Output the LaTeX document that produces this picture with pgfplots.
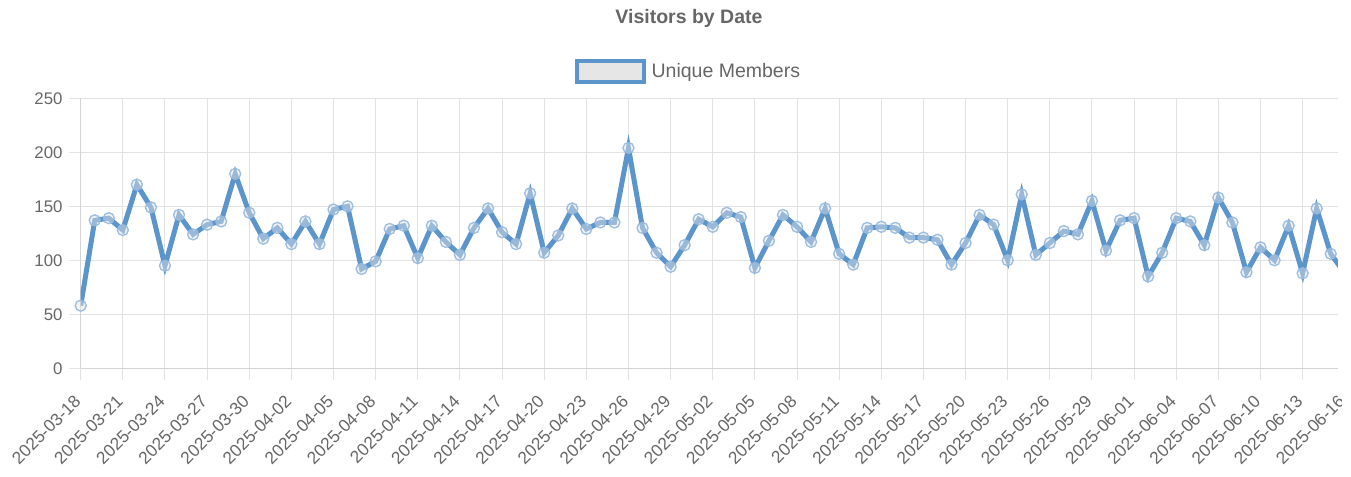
\documentclass[border=0pt]{standalone}
\usepackage{pgfplots}
\usepackage{pgfplotstable}
\pgfplotsset{compat=1.18}
\usepackage{fontspec}
\setmainfont{Liberation Sans}
\definecolor{lineblue}{RGB}{92,148,204}
\definecolor{gridgray}{RGB}{226,226,226}
\definecolor{axisgray}{RGB}{212,212,212}
\definecolor{txtgray}{RGB}{102,102,102}
\definecolor{legfill}{RGB}{230,230,230}

\pgfplotstableread{
x y
0 58
1 137
2 139
3 128
4 170
5 149
6 95
7 142
8 124
9 133
10 136
11 180
12 144
13 120
14 130
15 115
16 136
17 115
18 147
19 150
20 92
21 99
22 129
23 132
24 102
25 132
26 117
27 105
28 130
29 148
30 126
31 115
32 162
33 107
34 123
35 148
36 129
37 135
38 135
39 204
40 130
41 107
42 94
43 114
44 138
45 131
46 144
47 140
48 93
49 118
50 142
51 131
52 117
53 148
54 106
55 96
56 130
57 131
58 130
59 121
60 121
61 119
62 96
63 116
64 142
65 133
66 100
67 161
68 105
69 116
70 127
71 124
72 155
73 109
74 137
75 139
76 85
77 107
78 139
79 136
80 114
81 158
82 135
83 89
84 112
85 100
86 132
87 88
88 148
89 106
90 88
}\datatable

\begin{document}
\begin{tikzpicture}[x=1bp,y=1bp]
\useasboundingbox (0,0) rectangle (1351,477);
\node[font=\bfseries\fontsize{19.5bp}{22bp}\selectfont, text=txtgray, anchor=base, inner sep=0pt] at (689,453.7) {Visitors by Date};

\begin{axis}[
  at={(80.7bp,108.7bp)}, anchor=south west,
  scale only axis, width=1257bp, height=270bp,
  xmin=0, xmax=89.5, ymin=0, ymax=250,
  axis lines*=left,
  xtick={0,3,...,87}, xticklabels={},
  ytick={0,50,...,250},
  grid=major,
  major grid style={draw=gridgray, line width=1bp},
  tick align=outside, major tick length=12bp,
  tick style={draw=gridgray, line width=1bp},
  axis line style={draw=axisgray, line width=1bp},
  /pgf/number format/assume math mode=true,
  yticklabel style={font=\fontsize{16.8bp}{18bp}\selectfont, text=txtgray, inner sep=0pt, xshift=-6bp},
  clip mode=individual,
  legend style={at={(0.4835,1.0987)}, anchor=center, draw=none, fill=none, inner sep=0pt,
    font=\fontsize{19.5bp}{22bp}\selectfont, text=txtgray},
  legend image code/.code={\path[draw=none,fill=none] (0bp,0bp) -- (72.7bp,0bp);\draw[line width=4bp, draw=lineblue, fill=legfill, fill opacity=1] (0bp,-10.35bp) rectangle (66.7bp,10.35bp);},
]
\addplot[lineblue, line width=5bp, line join=miter, mark=*, mark size=5.5bp,
  mark options={fill=legfill, fill opacity=0.45, draw=lineblue!65!white, draw opacity=0.9, line width=1.4bp}]
  table[x=x,y=y] {\datatable};
\addlegendentry{Unique Members}
\end{axis}

\begin{scope}
\clip (0,0) rectangle (1341,477);
\begin{axis}[
  at={(80.7bp,108.7bp)}, anchor=south west,
  scale only axis, width=1264.02bp, height=270bp,
  xmin=0, xmax=90, ymin=0, ymax=250,
  axis lines*=left,
  axis line style={draw=none},
  ytick=\empty,
  xtick={0,3,...,90},
  xticklabels={2025-03-18,2025-03-21,2025-03-24,2025-03-27,2025-03-30,2025-04-02,2025-04-05,2025-04-08,2025-04-11,2025-04-14,2025-04-17,2025-04-20,2025-04-23,2025-04-26,2025-04-29,2025-05-02,2025-05-05,2025-05-08,2025-05-11,2025-05-14,2025-05-17,2025-05-20,2025-05-23,2025-05-26,2025-05-29,2025-06-01,2025-06-04,2025-06-07,2025-06-10,2025-06-13,2025-06-16},
  tick align=outside, major tick length=12bp,
  tick style={draw=none},
  xticklabel style={font=\fontsize{17.3bp}{18bp}\selectfont, text=txtgray, xshift=-3bp, yshift=-18bp, rotate=45, anchor=east, inner sep=0pt},
]
\end{axis}
\end{scope}
\end{tikzpicture}
\end{document}
